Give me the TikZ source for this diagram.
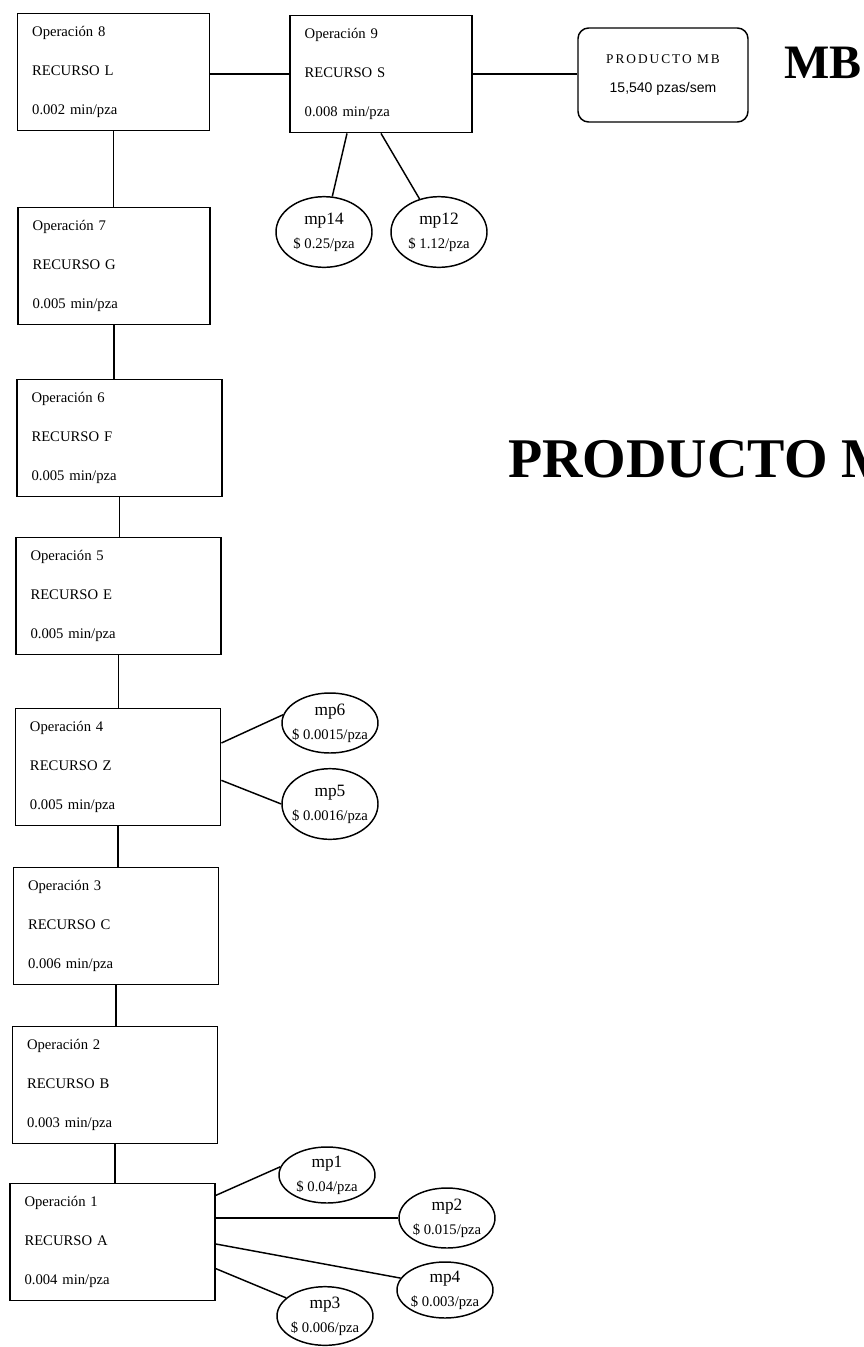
\documentclass[tikz,border=0pt]{standalone}
\usepackage{fontspec}
\setmainfont{Liberation Serif}
\newfontfamily\prodfont[LetterSpace=15]{Liberation Serif}
\newfontfamily\cantfont{Liberation Sans}
\usetikzlibrary{shapes.geometric}

\tikzset{
  opbox/.style={draw, line width=1.1pt, align=left, text width=#1, inner xsep=11pt, minimum height=88pt, font=\fontsize{11}{29}\selectfont},
  mpshape/.style={draw, line width=1.1pt, ellipse, inner sep=0pt, minimum width=72pt, minimum height=45pt},
  mptext/.style={align=center, inner sep=0pt, font=\fontsize{11}{18}\selectfont},
  link/.style={line width=1.1pt}
}

\begin{document}
\begin{tikzpicture}[x=0.75pt,y=0.75pt,yscale=-1,xscale=1]
\useasboundingbox (0,0) rectangle (864,1347);

% Operaciones
\node[opbox=122pt] (op8) at (113.5,72) {Operación 8\\RECURSO L\\0.002 min/pza};
\node[opbox=122pt] (op7) at (114,266) {Operación 7\\RECURSO G\\0.005 min/pza};
\node[opbox=132pt] (op6) at (119.5,438) {Operación 6\\RECURSO F\\0.005 min/pza};
\node[opbox=132pt] (op5) at (118.5,596) {Operación 5\\RECURSO E\\0.005 min/pza};
\node[opbox=132pt] (op4) at (118,767) {Operación 4\\RECURSO Z\\0.005 min/pza};
\node[opbox=132pt] (op3) at (116,926) {Operación 3\\RECURSO C\\0.006 min/pza};
\node[opbox=132pt] (op2) at (115,1085) {Operación 2\\RECURSO B\\0.003 min/pza};
\node[opbox=132pt] (op1) at (112.5,1242) {Operación 1\\RECURSO A\\0.004 min/pza};
\node[opbox=114.5pt] (op9) at (381,74) {Operación 9\\RECURSO S\\0.008 min/pza};

% Producto
\node[draw, line width=1.1pt, rounded corners=8pt, minimum width=127.5pt, minimum height=70.5pt, align=center] (prod) at (663,75)
  {{\prodfont\fontsize{10}{12}\selectfont PRODUCTO MB}\\[10pt]{\cantfont\fontsize{10.5}{12}\selectfont 15,540 pzas/sem}};
\node[anchor=base west, inner sep=0pt, font=\fontsize{36}{36}\selectfont\bfseries] (mb) at (784,78) {MB};
\node[anchor=base west, inner sep=0pt, font=\fontsize{42}{42}\selectfont\bfseries] (titulo) at (508,477) {PRODUCTO M};

% Materias primas
\node[mpshape, minimum height=53pt] (mp14) at (324,232) {};
\node[mptext] (mp14t) at (mp14) {{\fontsize{13}{15}\selectfont mp14}\\\$ 0.25/pza};
\node[mpshape, minimum height=53pt] (mp12) at (439,232) {};
\node[mptext] (mp12t) at (mp12) {{\fontsize{13}{15}\selectfont mp12}\\\$ 1.12/pza};
\node[mpshape] (mp6) at (330,723) {};
\node[mptext] (mp6t) at (mp6) {{\fontsize{13}{15}\selectfont mp6}\\\$ 0.0015/pza};
\node[mpshape, minimum height=53pt] (mp5) at (330,804) {};
\node[mptext] (mp5t) at (mp5) {{\fontsize{13}{15}\selectfont mp5}\\\$ 0.0016/pza};
\node[mpshape, minimum height=42pt] (mp1) at (327,1175) {};
\node[mptext] (mp1t) at (mp1) {{\fontsize{13}{15}\selectfont mp1}\\\$ 0.04/pza};
\node[mpshape] (mp2) at (447,1218) {};
\node[mptext] (mp2t) at (mp2) {{\fontsize{13}{15}\selectfont mp2}\\\$ 0.015/pza};
\node[mpshape, minimum height=42pt] (mp4) at (445,1290) {};
\node[mptext] (mp4t) at (mp4) {{\fontsize{13}{15}\selectfont mp4}\\\$ 0.003/pza};
\node[mpshape, minimum height=44pt] (mp3) at (325,1316) {};
\node[mptext] (mp3t) at (mp3) {{\fontsize{13}{15}\selectfont mp3}\\\$ 0.006/pza};

% Conexiones
\draw[link] (op8.south) -- (op8.south |- op7.north);
\draw[link] (op7.south) -- (op7.south |- op6.north);
\draw[link] (op6.south) -- (op6.south |- op5.north);
\draw[link] (op5.south) -- (op5.south |- op4.north);
\draw[link] (op4.south) -- (op4.south |- op3.north);
\draw[link] (op3.south) -- (op3.south |- op2.north);
\draw[link] (op2.south) -- (op2.south |- op1.north);
\draw[link] (op9.west -| op8.east) -- (op9.west);
\draw[link] (op9.east) -- (op9.east -| prod.west);
\draw[link] ([xshift=-25.5pt]op9.south) -- (mp14);
\draw[link] (op9.south) -- (mp12);
\draw[link] ([yshift=-18pt]op4.east) -- (mp6.170);
\draw[link] ([yshift=10pt]op4.east) -- (mp5.west);
\draw[link] ([yshift=-35pt]op1.east) -- (mp1.170);
\draw[link] (mp2.west -| op1.east) -- (mp2.west);
\draw[link] ([yshift=1.5pt]op1.east) -- (mp4.165);
\draw[link] ([yshift=20pt]op1.east) -- (mp3.155);

\end{tikzpicture}
\end{document}
